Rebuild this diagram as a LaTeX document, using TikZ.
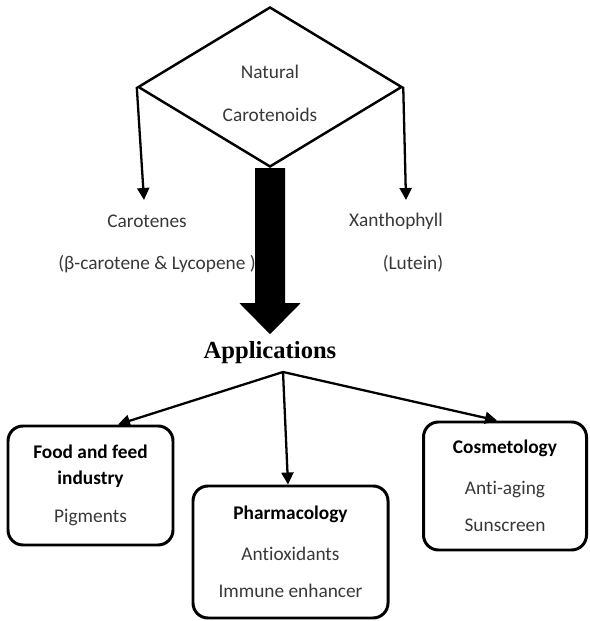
\documentclass[tikz,border=0pt]{standalone}
\usepackage{fontspec}
\setmainfont{Carlito}[Ligatures=NoCommon]
\newfontfamily\appfont{Liberation Serif}
\usepackage{xcolor}
\colorlet{colText}{black!78}
\colorlet{colHead}{black}
\usetikzlibrary{arrows.meta, positioning, calc, shapes.geometric}
\newcommand{\boxhead}[1]{\textcolor{colHead}{\textbf{#1}}}

\begin{document}
\begin{tikzpicture}[
	lbl/.style={font=\fontsize{11}{13}\selectfont, text=colText},
	appbox/.style={draw, line width=1.7pt, rounded corners=0.3cm, align=center, inner sep=2pt, font=\fontsize{11}{14.7}\selectfont, text=colText},
	branch/.style={line width=1.3pt, -{Triangle[length=0.24cm, width=0.24cm]}}
]
	\useasboundingbox (0,0) rectangle (11.78,12.42);
	\node[diamond, draw, line width=1.4pt, aspect=1.65, inner sep=0pt, minimum width=5.28cm, minimum height=3.2cm] (nc) at (5.40,10.68) {};
	\node[lbl, align=center] (ncText) at (5.40,10.55) {Natural\\[11.4pt]Carotenoids};
	\coordinate (carTip) at (2.88,8.42);
	\coordinate (xanTip) at (8.12,8.42);
	\draw[branch] (nc.west) -- (carTip);
	\draw[branch] (nc.east) -- (xanTip);
	\node[lbl] (car) at (2.94,8.00) {Carotenes};
	\node[lbl] (carEx) at (3.14,7.14) {(β-carotene \& Lycopene )};
	\node[lbl] (xan) at (7.92,8.00) {Xanthophyll};
	\node[lbl] (lut) at (8.26,7.14) {(Lutein)};
	\fill (nc.south) ++(-0.3,0) -- ++(0,-2.7) -- ++(-0.31,0) -- ++(0.61,-0.62) -- ++(0.61,0.62) -- ++(-0.31,0) -- ++(0,2.7) -- cycle;
	\node[font=\appfont\bfseries\fontsize{14}{16}\selectfont] (app) at (5.40,5.36) {Applications};
	\coordinate (split) at (5.66,4.98);
	\node[appbox, minimum width=3.3cm, minimum height=2.38cm] (food) at (1.81,2.71) {\boxhead{Food and feed}\\\boxhead{industry}\\[6.8pt]Pigments};
	\node[appbox, minimum width=3.9cm, minimum height=2.64cm] (pharm) at (5.81,1.38) {\boxhead{Pharmacology}\\[8.5pt]Antioxidants\\[6.8pt]Immune enhancer};
	\node[appbox, minimum width=3.26cm, minimum height=2.56cm] (cos) at (10.10,2.70) {\boxhead{Cosmetology}\\[8.5pt]Anti-aging\\[6.8pt]Sunscreen};
	\draw[branch] (split) -- ($(food.north)+(0.55,0)$);
	\draw[branch] (split) -- ($(pharm.north)+(-0.05,0)$);
	\draw[branch] (split) -- ($(cos.north)+(-0.16,0)$);
\end{tikzpicture}
\end{document}
